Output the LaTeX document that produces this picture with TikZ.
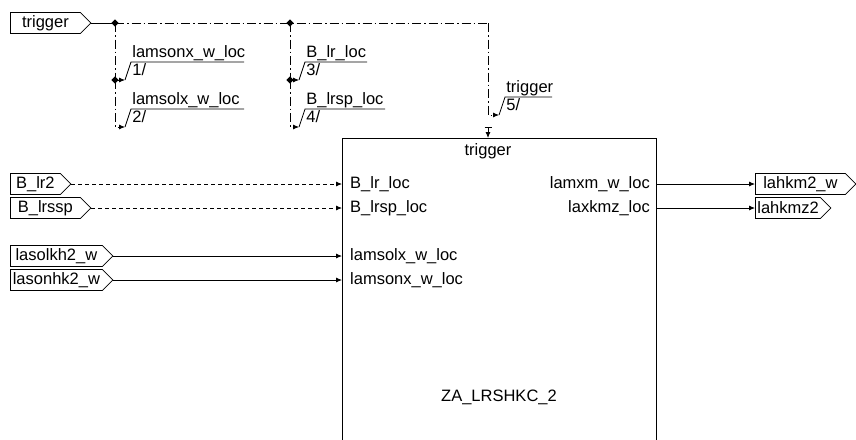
\documentclass[tikz,border=0pt]{standalone}
\usepackage{fontspec}
\setmainfont{Liberation Sans}
\usetikzlibrary{shapes.symbols,shapes.geometric,arrows.meta}

\begin{document}
\begin{tikzpicture}[
    x=1pt, y=-1pt,
    font=\fontsize{16.5}{18}\selectfont,
    wire/.style={line width=0.8pt},
    port/.style={draw, wire, signal, signal to=east, signal pointer angle=90, minimum height=21pt, inner xsep=2pt, inner ysep=0pt, align=center},
    tip/.style={-{Latex[length=6pt,width=5pt]}},
    trig/.style={wire, dash pattern=on 9pt off 3pt on 1.5pt off 3pt},
    sig/.style={wire, dash pattern=on 4pt off 3pt},
    junc/.style={diamond, fill, inner sep=0pt, minimum size=7.5pt},
    lbl/.style={inner sep=1pt},
    pinl/.style={anchor=west, inner sep=0pt},
    pinr/.style={anchor=east, inner sep=0pt}
  ]
    \useasboundingbox (0,0) rectangle (856,439);
    \clip (0,0) rectangle (856,439);

    % Nodes
    \node[port, text width=66pt, anchor=west] (trg) at (10,23) {trigger};
    \node[port, text width=46pt, anchor=west] (blr) at (10,184) {B\_lr2};
    \node[port, text width=66pt, anchor=west] (blrssp) at (10,208) {B\_lrssp};
    \node[port, text width=88pt, anchor=west] (lasolkh) at (10,256) {lasolkh2\_w};
    \node[port, text width=88pt, anchor=west] (lasonhk) at (10,280) {lasonhk2\_w};
    \node[port, text width=86pt, anchor=west] (lahkm) at (755,184) {lahkm2\_w};
    \node[port, text width=61pt, anchor=west] (lahkmz) at (755,208) {lahkmz2};

    \node[draw, wire, minimum width=314pt, minimum height=320pt, anchor=north west] (za) at (342,138) {};
    \node (zaname) at (499,397) {ZA\_LRSHKC\_2};
    \node (ptrg) at (488,151) {trigger};
    \node[pinl] (pblr) at (350,184) {B\_lr\_loc};
    \node[pinl] (pblrsp) at (350,208) {B\_lrsp\_loc};
    \node[pinl] (psolx) at (350,256) {lamsolx\_w\_loc};
    \node[pinl] (psonx) at (350,280) {lamsonx\_w\_loc};
    \node[pinr] (pxm) at (650,184) {lamxm\_w\_loc};
    \node[pinr] (pxkmz) at (650,208) {laxkmz\_loc};

    % Trigger branches
    \node[junc] (j1) at (115,23) {};
    \node[junc] (j2) at (290,23) {};
    \node[junc] (j1b) at (115,80) {};
    \node[junc] (j2b) at (290,80) {};
    \coordinate (tc) at (488,23);
    \coordinate (e1) at (125,80);
    \coordinate (e2) at (125,127);
    \coordinate (e3) at (299,80);
    \coordinate (e4) at (299,127);
    \coordinate (e5) at (499,115);
    \coordinate (tin) at (488,127);

    \draw[wire] (trg.east) -- (j1.center);
    \draw[trig] (j1.center) -- (j2.center) -- (tc);
    \draw[trig, tip] (tc) |- (e5);
    \draw[trig] (j1.center) -- (j1b.center);
    \draw[trig, tip] (j1b.center) -- (e1);
    \draw[trig, tip] (j1b.center) |- (e2);
    \draw[trig] (j2.center) -- (j2b.center);
    \draw[trig, tip] (j2b.center) -- (e3);
    \draw[trig, tip] (j2b.center) |- (e4);
    \draw[wire, {Bar[width=7pt]}-{Latex[length=6pt,width=5pt]}] (tin) -- (tin |- za.north);

    % Signal labels
    \draw[wire] (e1) -- ++(6,-18) node[lbl, above right] (l1) {lamsonx\_w\_loc} node[lbl, below right] (n1) {1/} -- ++(113,0);
    \draw[wire] (e2) -- ++(6,-18) node[lbl, above right] (l2) {lamsolx\_w\_loc} node[lbl, below right] (n2) {2/} -- ++(113,0);
    \draw[wire] (e3) -- ++(6,-18) node[lbl, above right] (l3) {B\_lr\_loc} node[lbl, below right] (n3) {3/} -- ++(62,0);
    \draw[wire] (e4) -- ++(6,-18) node[lbl, above right] (l4) {B\_lrsp\_loc} node[lbl, below right] (n4) {4/} -- ++(80,0);
    \draw[wire] (e5) -- ++(6,-18) node[lbl, above right] (l5) {trigger} node[lbl, below right] (n5) {5/} -- ++(47,0);

    % Arrows
    \draw[sig, tip] (blr.east) -- (blr.east -| za.west);
    \draw[sig, tip] (blrssp.east) -- (blrssp.east -| za.west);
    \draw[wire, tip] (lasolkh.east) -- (lasolkh.east -| za.west);
    \draw[wire, tip] (lasonhk.east) -- (lasonhk.east -| za.west);
    \draw[wire, tip] (za.east |- lahkm.west) -- (lahkm.west);
    \draw[wire, tip] (za.east |- lahkmz.west) -- (lahkmz.west);
  \end{tikzpicture}
\end{document}
